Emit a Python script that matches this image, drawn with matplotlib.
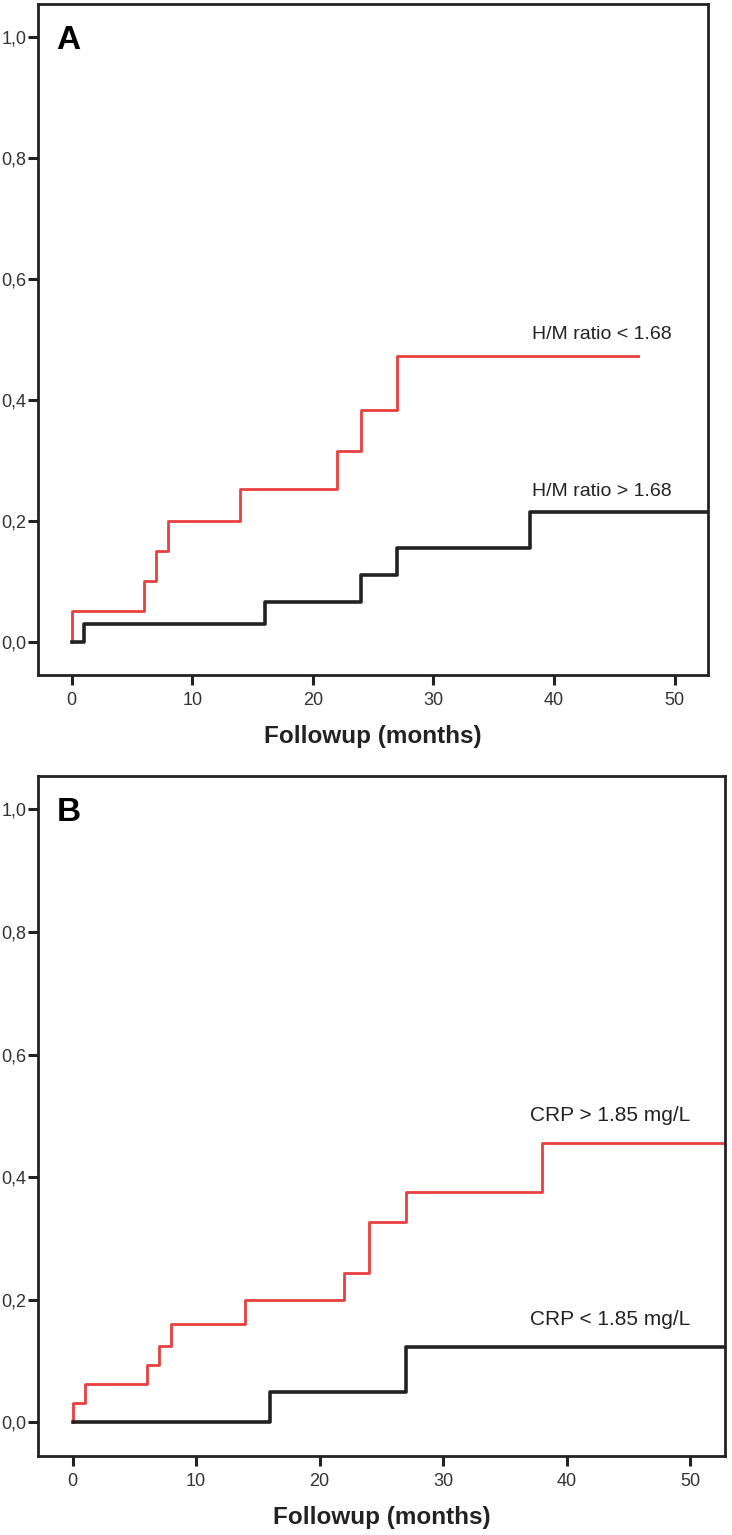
import matplotlib
matplotlib.use('Agg')
import matplotlib.pyplot as plt

plt.rcParams['font.family'] = ['Liberation Sans', 'DejaVu Sans']

# panel A: H/M ratio groups (cumulative event rate, step changes)
a_low_x = [0, 0, 6, 7, 8, 14, 22, 24, 27, 47]
a_low_y = [0, 0.05, 0.10, 0.15, 0.20, 0.253, 0.316, 0.384, 0.473, 0.473]
a_high_x = [0, 1, 16, 24, 27, 38, 56]
a_high_y = [0, 0.029, 0.066, 0.110, 0.155, 0.215, 0.215]

# panel B: CRP groups
b_high_x = [0, 0, 1, 6, 7, 8, 14, 22, 24, 27, 38, 56]
b_high_y = [0, 0.031, 0.062, 0.094, 0.125, 0.160, 0.200, 0.243, 0.327, 0.375, 0.455, 0.455]
b_low_x = [0, 16, 27, 56]
b_low_y = [0, 0.050, 0.123, 0.123]

xticks = [0, 10, 20, 30, 40, 50]
yticks = [0.0, 0.2, 0.4, 0.6, 0.8, 1.0]
ytick_labels = ['0,0', '0,2', '0,4', '0,6', '0,8', '1,0']

RED = '#e8403f'
BLACK = '#222222'

fig = plt.figure(figsize=(7.32, 15.35), dpi=100)
axA = fig.add_axes([0.0523, 0.5603, 0.9153, 0.4371])
axB = fig.add_axes([0.0523, 0.0515, 0.9380, 0.4432])


def style(ax, letter):
    ax.set_xlim(-2.77, 52.8)
    ax.set_ylim(-0.055, 1.055)
    ax.set_xticks(xticks)
    ax.set_yticks(yticks)
    ax.set_yticklabels(ytick_labels)
    for s in ax.spines.values():
        s.set_linewidth(2.0)
        s.set_color('#222222')
    ax.tick_params(direction='out', length=7, width=2.2, color='#222222',
                   labelsize=13, labelcolor='#333333')
    ax.tick_params(axis='y', pad=1.5)
    ax.tick_params(axis='x', pad=5)
    ax.set_xlabel('Followup (months)', fontsize=17.5, fontweight='bold',
                  color='#222222', labelpad=12)
    ax.text(-1.25, 0.995, letter, fontsize=24, fontweight='bold',
            ha='left', va='center', color='black')


style(axA, 'A')
axA.step(a_low_x, a_low_y, where='post', color=RED, lw=2.0)
axA.step(a_high_x, a_high_y, where='post', color=BLACK, lw=2.6)
axA.text(38.2, 0.508, 'H/M ratio < 1.68', fontsize=14, color='#222222',
         ha='left', va='center')
axA.text(38.2, 0.248, 'H/M ratio > 1.68', fontsize=14, color='#222222',
         ha='left', va='center')

style(axB, 'B')
axB.step(b_high_x, b_high_y, where='post', color=RED, lw=2.0)
axB.step(b_low_x, b_low_y, where='post', color=BLACK, lw=2.6)
axB.text(37.0, 0.500, 'CRP > 1.85 mg/L', fontsize=15, color='#222222',
         ha='left', va='center')
axB.text(37.0, 0.168, 'CRP < 1.85 mg/L', fontsize=15, color='#222222',
         ha='left', va='center')

fig.savefig('out.png', dpi=100)
